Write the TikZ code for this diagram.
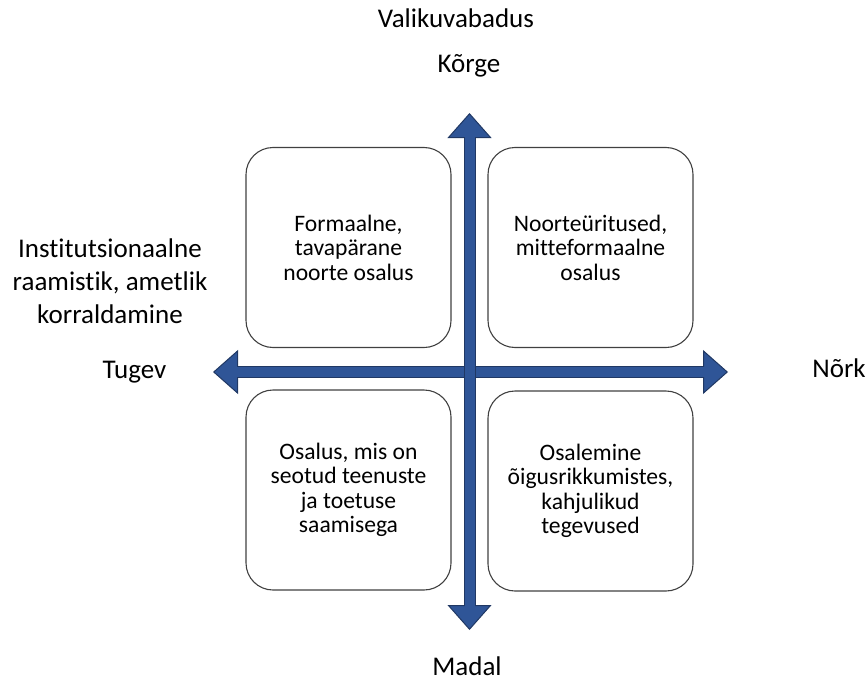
\documentclass[tikz,border=0pt]{standalone}
\usepackage{fontspec}
\setmainfont{Carlito}[Ligatures=NoCommon]
\usetikzlibrary{arrows.meta,positioning}
\definecolor{axisblue}{RGB}{47,85,151}
\definecolor{axisdark}{RGB}{32,56,100}
\tikzset{quadrant/.style={
    % The shape:
    rectangle,
    rounded corners=27pt,
    % The size:
    minimum width=205pt,
    minimum height=200pt,
    % The border:
    line width=1.1pt,
    draw=black!75,
    % Font
    align=center,
    font=\fontsize{23.6}{24.5}\selectfont
    },
    axislabel/.style={
    font=\fontsize{27}{33}\selectfont,
    align=center,
    },
    axisouter/.style={
    line width=12pt,
    draw=axisdark,
    {Triangle[length=25pt,width=44pt,line width=1pt,fill=axisblue]}-{Triangle[length=25pt,width=44pt,line width=1pt,fill=axisblue]},
    },
    axisinner/.style={
    line width=10pt,
    draw=axisblue,
    shorten <=23pt,
    shorten >=23pt,
    },
}

\begin{document}
\begin{tikzpicture}[x=1pt,y=-1pt]
    \useasboundingbox (0,0) rectangle (866,682);
    \node (formal)     [quadrant] at (348.5,247.5) {Formaalne,\\tavapärane\\noorte osalus};
    \node (noored)     [quadrant] at (590.5,247.5) {Noorteüritused,\\mitteformaalne\\osalus};
    \node (teenused)   [quadrant] at (348.5,490)   {Osalus, mis on\\seotud teenuste\\ja toetuse\\saamisega};
    \node (rikkumised) [quadrant] at (590.5,491)   {Osalemine\\õigusrikkumistes,\\kahjulikud\\tegevused};

    \coordinate (left)   at (213,372);
    \coordinate (right)  at (728,372);
    \coordinate (up)     at (469.5,113);
    \coordinate (down)   at (469.5,630);
    \draw[axisouter] (left) -- (right);
    \draw[axisinner] (left) -- (right);
    \draw[axisouter] (down) -- (up);
    \draw[axisinner] (down) -- (up);

    \node (valik) [axislabel,anchor=base] at (456,28)    {Valikuvabadus};
    \node (korge) [axislabel,anchor=base] at (469,73)    {Kõrge};
    \node (madal) [axislabel,anchor=base] at (467,675)   {Madal};
    \node (tugev) [axislabel,anchor=base] at (134.5,378) {Tugev};
    \node (nork)  [axislabel,anchor=base] at (839,377)   {Nõrk};
    \node (inst)  [axislabel] at (110,281) {Institutsionaalne\\raamistik, ametlik\\korraldamine};
\end{tikzpicture}
\end{document}
